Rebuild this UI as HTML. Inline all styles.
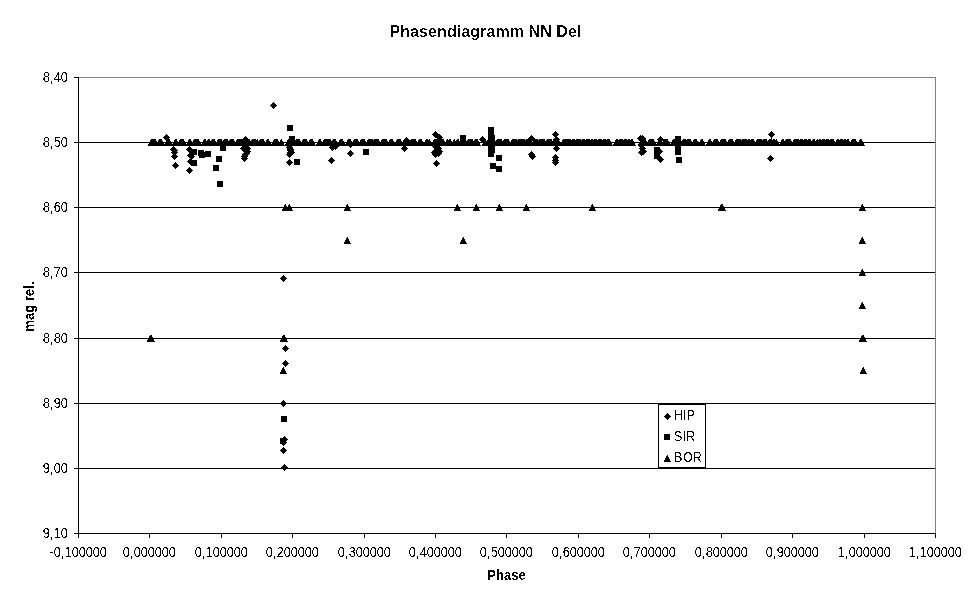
<!DOCTYPE html>
<html lang="de"><head><meta charset="utf-8"><title>Phasendiagramm NN Del</title>
<style>
html,body{margin:0;padding:0;background:#fff;}
body{width:970px;height:604px;overflow:hidden;font-family:"Liberation Sans",sans-serif;}
svg{display:block;}
text{font-family:"Liberation Sans",sans-serif;fill:#000;}
.t{font-size:14px;}
.b{font-weight:bold;}
</style></head><body>
<svg width="970" height="604" viewBox="0 0 970 604">
<rect width="970" height="604" fill="#fff"/>
<defs>
<path id="t" d="M0,-3h1v2h1v2h1v2h1v1h-7v-2h1v-2h1v-2h1z"/>
<path id="d" d="M0,-3h1v1h1v1h1v1h1v1h-1v1h-1v1h-1v1h-1v-1h-1v-1h-1v-1h-1v-1h1v-1h1v-1h1z"/>
<rect id="s" width="6" height="6"/>
<filter id="px" x="0" y="0" width="970" height="604" filterUnits="userSpaceOnUse" color-interpolation-filters="sRGB"><feComponentTransfer><feFuncA type="discrete" tableValues="0 1"/></feComponentTransfer></filter>
<filter id="pc" x="0" y="0" width="970" height="604" filterUnits="userSpaceOnUse" color-interpolation-filters="sRGB"><feComponentTransfer><feFuncA type="discrete" tableValues="0 1"/></feComponentTransfer></filter>
<filter id="pb" x="0" y="0" width="970" height="604" filterUnits="userSpaceOnUse" color-interpolation-filters="sRGB"><feComponentTransfer><feFuncA type="discrete" tableValues="0 0 0 1 1"/></feComponentTransfer></filter>
</defs>
<g shape-rendering="crispEdges">
<rect x="78" y="77" width="858" height="1" fill="#808080"/>
<rect x="935" y="77" width="1" height="457" fill="#808080"/>
<rect x="78" y="142" width="857" height="1"/>
<rect x="78" y="207" width="857" height="1"/>
<rect x="78" y="272" width="857" height="1"/>
<rect x="78" y="338" width="857" height="1"/>
<rect x="78" y="403" width="857" height="1"/>
<rect x="78" y="468" width="857" height="1"/>
<rect x="78" y="77" width="1" height="457"/>
<rect x="78" y="533" width="858" height="1"/>
<rect x="74" y="77" width="4" height="1"/>
<rect x="74" y="142" width="4" height="1"/>
<rect x="74" y="207" width="4" height="1"/>
<rect x="74" y="272" width="4" height="1"/>
<rect x="74" y="338" width="4" height="1"/>
<rect x="74" y="403" width="4" height="1"/>
<rect x="74" y="468" width="4" height="1"/>
<rect x="74" y="533" width="4" height="1"/>
<rect x="78" y="534" width="1" height="4"/>
<rect x="149" y="534" width="1" height="4"/>
<rect x="221" y="534" width="1" height="4"/>
<rect x="292" y="534" width="1" height="4"/>
<rect x="364" y="534" width="1" height="4"/>
<rect x="435" y="534" width="1" height="4"/>
<rect x="506" y="534" width="1" height="4"/>
<rect x="578" y="534" width="1" height="4"/>
<rect x="649" y="534" width="1" height="4"/>
<rect x="721" y="534" width="1" height="4"/>
<rect x="792" y="534" width="1" height="4"/>
<rect x="864" y="534" width="1" height="4"/>
<rect x="935" y="534" width="1" height="4"/>
</g>
<g shape-rendering="crispEdges" fill="#000">
<use href="#t" x="151" y="142"/><use href="#t" x="152" y="142"/><use href="#t" x="153" y="142"/><use href="#t" x="154" y="142"/><use href="#t" x="155" y="142"/><use href="#t" x="159" y="142"/><use href="#t" x="160" y="142"/><use href="#t" x="161" y="142"/><use href="#t" x="167" y="142"/><use href="#t" x="168" y="142"/><use href="#t" x="169" y="142"/><use href="#t" x="175" y="142"/><use href="#t" x="176" y="142"/><use href="#t" x="180" y="142"/><use href="#t" x="181" y="142"/><use href="#t" x="182" y="142"/><use href="#t" x="183" y="142"/><use href="#t" x="189" y="142"/><use href="#t" x="190" y="142"/><use href="#t" x="194" y="142"/><use href="#t" x="195" y="142"/><use href="#t" x="196" y="142"/><use href="#t" x="197" y="142"/><use href="#t" x="198" y="142"/><use href="#t" x="204" y="142"/><use href="#t" x="205" y="142"/><use href="#t" x="208" y="142"/><use href="#t" x="209" y="142"/><use href="#t" x="212" y="142"/><use href="#t" x="213" y="142"/><use href="#t" x="214" y="142"/><use href="#t" x="218" y="142"/><use href="#t" x="219" y="142"/><use href="#t" x="220" y="142"/><use href="#t" x="221" y="142"/><use href="#t" x="224" y="142"/><use href="#t" x="225" y="142"/><use href="#t" x="226" y="142"/><use href="#t" x="227" y="142"/><use href="#t" x="230" y="142"/><use href="#t" x="231" y="142"/><use href="#t" x="232" y="142"/><use href="#t" x="233" y="142"/><use href="#t" x="237" y="142"/><use href="#t" x="238" y="142"/><use href="#t" x="239" y="142"/><use href="#t" x="240" y="142"/><use href="#t" x="241" y="142"/><use href="#t" x="242" y="142"/><use href="#t" x="243" y="142"/><use href="#t" x="244" y="142"/><use href="#t" x="245" y="142"/><use href="#t" x="246" y="142"/><use href="#t" x="247" y="142"/><use href="#t" x="248" y="142"/><use href="#t" x="249" y="142"/><use href="#t" x="252" y="142"/><use href="#t" x="253" y="142"/><use href="#t" x="254" y="142"/><use href="#t" x="255" y="142"/><use href="#t" x="257" y="142"/><use href="#t" x="260" y="142"/><use href="#t" x="261" y="142"/><use href="#t" x="262" y="142"/><use href="#t" x="263" y="142"/><use href="#t" x="267" y="142"/><use href="#t" x="268" y="142"/><use href="#t" x="274" y="142"/><use href="#t" x="275" y="142"/><use href="#t" x="276" y="142"/><use href="#t" x="277" y="142"/><use href="#t" x="281" y="142"/><use href="#t" x="288" y="142"/><use href="#t" x="289" y="142"/><use href="#t" x="290" y="142"/><use href="#t" x="291" y="142"/><use href="#t" x="292" y="142"/><use href="#t" x="293" y="142"/><use href="#t" x="294" y="142"/><use href="#t" x="296" y="142"/><use href="#t" x="297" y="142"/><use href="#t" x="298" y="142"/><use href="#t" x="299" y="142"/><use href="#t" x="303" y="142"/><use href="#t" x="304" y="142"/><use href="#t" x="305" y="142"/><use href="#t" x="306" y="142"/><use href="#t" x="310" y="142"/><use href="#t" x="311" y="142"/><use href="#t" x="312" y="142"/><use href="#t" x="319" y="142"/><use href="#t" x="320" y="142"/><use href="#t" x="324" y="142"/><use href="#t" x="325" y="142"/><use href="#t" x="326" y="142"/><use href="#t" x="327" y="142"/><use href="#t" x="328" y="142"/><use href="#t" x="329" y="142"/><use href="#t" x="330" y="142"/><use href="#t" x="333" y="142"/><use href="#t" x="334" y="142"/><use href="#t" x="335" y="142"/><use href="#t" x="340" y="142"/><use href="#t" x="341" y="142"/><use href="#t" x="342" y="142"/><use href="#t" x="348" y="142"/><use href="#t" x="349" y="142"/><use href="#t" x="350" y="142"/><use href="#t" x="354" y="142"/><use href="#t" x="355" y="142"/><use href="#t" x="356" y="142"/><use href="#t" x="357" y="142"/><use href="#t" x="361" y="142"/><use href="#t" x="362" y="142"/><use href="#t" x="363" y="142"/><use href="#t" x="364" y="142"/><use href="#t" x="368" y="142"/><use href="#t" x="369" y="142"/><use href="#t" x="370" y="142"/><use href="#t" x="371" y="142"/><use href="#t" x="372" y="142"/><use href="#t" x="374" y="142"/><use href="#t" x="375" y="142"/><use href="#t" x="376" y="142"/><use href="#t" x="377" y="142"/><use href="#t" x="378" y="142"/><use href="#t" x="382" y="142"/><use href="#t" x="383" y="142"/><use href="#t" x="384" y="142"/><use href="#t" x="385" y="142"/><use href="#t" x="386" y="142"/><use href="#t" x="390" y="142"/><use href="#t" x="391" y="142"/><use href="#t" x="392" y="142"/><use href="#t" x="397" y="142"/><use href="#t" x="398" y="142"/><use href="#t" x="399" y="142"/><use href="#t" x="400" y="142"/><use href="#t" x="404" y="142"/><use href="#t" x="405" y="142"/><use href="#t" x="406" y="142"/><use href="#t" x="411" y="142"/><use href="#t" x="412" y="142"/><use href="#t" x="413" y="142"/><use href="#t" x="414" y="142"/><use href="#t" x="415" y="142"/><use href="#t" x="419" y="142"/><use href="#t" x="420" y="142"/><use href="#t" x="421" y="142"/><use href="#t" x="426" y="142"/><use href="#t" x="427" y="142"/><use href="#t" x="429" y="142"/><use href="#t" x="434" y="142"/><use href="#t" x="435" y="142"/><use href="#t" x="436" y="142"/><use href="#t" x="437" y="142"/><use href="#t" x="438" y="142"/><use href="#t" x="439" y="142"/><use href="#t" x="440" y="142"/><use href="#t" x="441" y="142"/><use href="#t" x="442" y="142"/><use href="#t" x="443" y="142"/><use href="#t" x="447" y="142"/><use href="#t" x="449" y="142"/><use href="#t" x="450" y="142"/><use href="#t" x="454" y="142"/><use href="#t" x="457" y="142"/><use href="#t" x="458" y="142"/><use href="#t" x="461" y="142"/><use href="#t" x="462" y="142"/><use href="#t" x="463" y="142"/><use href="#t" x="464" y="142"/><use href="#t" x="465" y="142"/><use href="#t" x="468" y="142"/><use href="#t" x="469" y="142"/><use href="#t" x="470" y="142"/><use href="#t" x="471" y="142"/><use href="#t" x="472" y="142"/><use href="#t" x="475" y="142"/><use href="#t" x="476" y="142"/><use href="#t" x="477" y="142"/><use href="#t" x="485" y="142"/><use href="#t" x="488" y="142"/><use href="#t" x="489" y="142"/><use href="#t" x="490" y="142"/><use href="#t" x="491" y="142"/><use href="#t" x="492" y="142"/><use href="#t" x="493" y="142"/><use href="#t" x="494" y="142"/><use href="#t" x="497" y="142"/><use href="#t" x="498" y="142"/><use href="#t" x="499" y="142"/><use href="#t" x="500" y="142"/><use href="#t" x="501" y="142"/><use href="#t" x="504" y="142"/><use href="#t" x="505" y="142"/><use href="#t" x="506" y="142"/><use href="#t" x="507" y="142"/><use href="#t" x="508" y="142"/><use href="#t" x="512" y="142"/><use href="#t" x="513" y="142"/><use href="#t" x="514" y="142"/><use href="#t" x="515" y="142"/><use href="#t" x="516" y="142"/><use href="#t" x="518" y="142"/><use href="#t" x="519" y="142"/><use href="#t" x="520" y="142"/><use href="#t" x="521" y="142"/><use href="#t" x="522" y="142"/><use href="#t" x="523" y="142"/><use href="#t" x="524" y="142"/><use href="#t" x="526" y="142"/><use href="#t" x="527" y="142"/><use href="#t" x="528" y="142"/><use href="#t" x="529" y="142"/><use href="#t" x="530" y="142"/><use href="#t" x="534" y="142"/><use href="#t" x="535" y="142"/><use href="#t" x="536" y="142"/><use href="#t" x="537" y="142"/><use href="#t" x="539" y="142"/><use href="#t" x="540" y="142"/><use href="#t" x="541" y="142"/><use href="#t" x="542" y="142"/><use href="#t" x="543" y="142"/><use href="#t" x="544" y="142"/><use href="#t" x="547" y="142"/><use href="#t" x="548" y="142"/><use href="#t" x="549" y="142"/><use href="#t" x="550" y="142"/><use href="#t" x="551" y="142"/><use href="#t" x="554" y="142"/><use href="#t" x="555" y="142"/><use href="#t" x="556" y="142"/><use href="#t" x="557" y="142"/><use href="#t" x="558" y="142"/><use href="#t" x="563" y="142"/><use href="#t" x="564" y="142"/><use href="#t" x="565" y="142"/><use href="#t" x="566" y="142"/><use href="#t" x="567" y="142"/><use href="#t" x="568" y="142"/><use href="#t" x="569" y="142"/><use href="#t" x="570" y="142"/><use href="#t" x="572" y="142"/><use href="#t" x="573" y="142"/><use href="#t" x="574" y="142"/><use href="#t" x="576" y="142"/><use href="#t" x="577" y="142"/><use href="#t" x="578" y="142"/><use href="#t" x="579" y="142"/><use href="#t" x="580" y="142"/><use href="#t" x="582" y="142"/><use href="#t" x="583" y="142"/><use href="#t" x="584" y="142"/><use href="#t" x="586" y="142"/><use href="#t" x="587" y="142"/><use href="#t" x="588" y="142"/><use href="#t" x="589" y="142"/><use href="#t" x="591" y="142"/><use href="#t" x="592" y="142"/><use href="#t" x="594" y="142"/><use href="#t" x="595" y="142"/><use href="#t" x="596" y="142"/><use href="#t" x="598" y="142"/><use href="#t" x="599" y="142"/><use href="#t" x="600" y="142"/><use href="#t" x="601" y="142"/><use href="#t" x="603" y="142"/><use href="#t" x="604" y="142"/><use href="#t" x="605" y="142"/><use href="#t" x="607" y="142"/><use href="#t" x="608" y="142"/><use href="#t" x="609" y="142"/><use href="#t" x="616" y="142"/><use href="#t" x="617" y="142"/><use href="#t" x="619" y="142"/><use href="#t" x="620" y="142"/><use href="#t" x="621" y="142"/><use href="#t" x="622" y="142"/><use href="#t" x="624" y="142"/><use href="#t" x="625" y="142"/><use href="#t" x="626" y="142"/><use href="#t" x="628" y="142"/><use href="#t" x="629" y="142"/><use href="#t" x="631" y="142"/><use href="#t" x="632" y="142"/><use href="#t" x="641" y="142"/><use href="#t" x="642" y="142"/><use href="#t" x="643" y="142"/><use href="#t" x="644" y="142"/><use href="#t" x="645" y="142"/><use href="#t" x="649" y="142"/><use href="#t" x="650" y="142"/><use href="#t" x="651" y="142"/><use href="#t" x="652" y="142"/><use href="#t" x="653" y="142"/><use href="#t" x="659" y="142"/><use href="#t" x="660" y="142"/><use href="#t" x="664" y="142"/><use href="#t" x="665" y="142"/><use href="#t" x="666" y="142"/><use href="#t" x="667" y="142"/><use href="#t" x="673" y="142"/><use href="#t" x="674" y="142"/><use href="#t" x="675" y="142"/><use href="#t" x="676" y="142"/><use href="#t" x="677" y="142"/><use href="#t" x="678" y="142"/><use href="#t" x="679" y="142"/><use href="#t" x="680" y="142"/><use href="#t" x="683" y="142"/><use href="#t" x="684" y="142"/><use href="#t" x="685" y="142"/><use href="#t" x="687" y="142"/><use href="#t" x="688" y="142"/><use href="#t" x="689" y="142"/><use href="#t" x="690" y="142"/><use href="#t" x="694" y="142"/><use href="#t" x="695" y="142"/><use href="#t" x="696" y="142"/><use href="#t" x="701" y="142"/><use href="#t" x="702" y="142"/><use href="#t" x="709" y="142"/><use href="#t" x="710" y="142"/><use href="#t" x="714" y="142"/><use href="#t" x="715" y="142"/><use href="#t" x="716" y="142"/><use href="#t" x="717" y="142"/><use href="#t" x="721" y="142"/><use href="#t" x="722" y="142"/><use href="#t" x="723" y="142"/><use href="#t" x="724" y="142"/><use href="#t" x="725" y="142"/><use href="#t" x="729" y="142"/><use href="#t" x="730" y="142"/><use href="#t" x="731" y="142"/><use href="#t" x="732" y="142"/><use href="#t" x="736" y="142"/><use href="#t" x="737" y="142"/><use href="#t" x="738" y="142"/><use href="#t" x="739" y="142"/><use href="#t" x="740" y="142"/><use href="#t" x="742" y="142"/><use href="#t" x="743" y="142"/><use href="#t" x="744" y="142"/><use href="#t" x="745" y="142"/><use href="#t" x="746" y="142"/><use href="#t" x="748" y="142"/><use href="#t" x="749" y="142"/><use href="#t" x="751" y="142"/><use href="#t" x="752" y="142"/><use href="#t" x="753" y="142"/><use href="#t" x="757" y="142"/><use href="#t" x="758" y="142"/><use href="#t" x="759" y="142"/><use href="#t" x="760" y="142"/><use href="#t" x="761" y="142"/><use href="#t" x="763" y="142"/><use href="#t" x="764" y="142"/><use href="#t" x="765" y="142"/><use href="#t" x="766" y="142"/><use href="#t" x="769" y="142"/><use href="#t" x="770" y="142"/><use href="#t" x="773" y="142"/><use href="#t" x="774" y="142"/><use href="#t" x="776" y="142"/><use href="#t" x="782" y="142"/><use href="#t" x="783" y="142"/><use href="#t" x="786" y="142"/><use href="#t" x="787" y="142"/><use href="#t" x="788" y="142"/><use href="#t" x="789" y="142"/><use href="#t" x="790" y="142"/><use href="#t" x="794" y="142"/><use href="#t" x="795" y="142"/><use href="#t" x="796" y="142"/><use href="#t" x="797" y="142"/><use href="#t" x="798" y="142"/><use href="#t" x="800" y="142"/><use href="#t" x="801" y="142"/><use href="#t" x="802" y="142"/><use href="#t" x="804" y="142"/><use href="#t" x="805" y="142"/><use href="#t" x="806" y="142"/><use href="#t" x="808" y="142"/><use href="#t" x="809" y="142"/><use href="#t" x="810" y="142"/><use href="#t" x="813" y="142"/><use href="#t" x="814" y="142"/><use href="#t" x="817" y="142"/><use href="#t" x="819" y="142"/><use href="#t" x="820" y="142"/><use href="#t" x="822" y="142"/><use href="#t" x="823" y="142"/><use href="#t" x="824" y="142"/><use href="#t" x="826" y="142"/><use href="#t" x="827" y="142"/><use href="#t" x="828" y="142"/><use href="#t" x="830" y="142"/><use href="#t" x="831" y="142"/><use href="#t" x="832" y="142"/><use href="#t" x="833" y="142"/><use href="#t" x="837" y="142"/><use href="#t" x="838" y="142"/><use href="#t" x="840" y="142"/><use href="#t" x="841" y="142"/><use href="#t" x="842" y="142"/><use href="#t" x="844" y="142"/><use href="#t" x="845" y="142"/><use href="#t" x="847" y="142"/><use href="#t" x="848" y="142"/><use href="#t" x="852" y="142"/><use href="#t" x="853" y="142"/><use href="#t" x="854" y="142"/><use href="#t" x="855" y="142"/><use href="#t" x="860" y="142"/><use href="#t" x="861" y="142"/>
<use href="#t" x="150" y="338"/><use href="#t" x="151" y="338"/><use href="#t" x="285" y="207"/><use href="#t" x="289" y="207"/><use href="#t" x="347" y="207"/><use href="#t" x="457" y="207"/><use href="#t" x="476" y="207"/><use href="#t" x="499" y="207"/><use href="#t" x="526" y="207"/><use href="#t" x="592" y="207"/><use href="#t" x="721" y="207"/><use href="#t" x="722" y="207"/><use href="#t" x="862" y="207"/><use href="#t" x="347" y="240"/><use href="#t" x="463" y="240"/><use href="#t" x="862" y="240"/><use href="#t" x="862" y="272"/><use href="#t" x="862" y="305"/><use href="#t" x="862" y="338"/><use href="#t" x="863" y="338"/><use href="#t" x="863" y="370"/><use href="#t" x="284" y="338"/><use href="#t" x="283" y="338"/><use href="#t" x="283" y="370"/><use href="#t" x="771" y="141"/>
<use href="#d" x="273" y="105"/><use href="#d" x="166" y="137"/><use href="#d" x="173" y="149"/><use href="#d" x="174" y="150"/><use href="#d" x="174" y="152"/><use href="#d" x="174" y="156"/><use href="#d" x="175" y="165"/><use href="#d" x="189" y="149"/><use href="#d" x="190" y="155"/><use href="#d" x="191" y="156"/><use href="#d" x="190" y="161"/><use href="#d" x="189" y="170"/><use href="#d" x="245" y="139"/><use href="#d" x="245" y="146"/><use href="#d" x="246" y="147"/><use href="#d" x="243" y="148"/><use href="#d" x="247" y="148"/><use href="#d" x="246" y="150"/><use href="#d" x="247" y="151"/><use href="#d" x="246" y="153"/><use href="#d" x="245" y="154"/><use href="#d" x="244" y="156"/><use href="#d" x="244" y="158"/><use href="#d" x="289" y="147"/><use href="#d" x="290" y="149"/><use href="#d" x="290" y="150"/><use href="#d" x="290" y="152"/><use href="#d" x="291" y="152"/><use href="#d" x="289" y="154"/><use href="#d" x="289" y="162"/><use href="#d" x="332" y="147"/><use href="#d" x="335" y="146"/><use href="#d" x="331" y="160"/><use href="#d" x="350" y="144"/><use href="#d" x="350" y="153"/><use href="#d" x="404" y="148"/><use href="#d" x="406" y="140"/><use href="#d" x="407" y="142"/><use href="#d" x="435" y="134"/><use href="#d" x="439" y="137"/><use href="#d" x="435" y="146"/><use href="#d" x="438" y="148"/><use href="#d" x="436" y="150"/><use href="#d" x="434" y="152"/><use href="#d" x="439" y="151"/><use href="#d" x="435" y="154"/><use href="#d" x="438" y="153"/><use href="#d" x="436" y="163"/><use href="#d" x="482" y="139"/><use href="#d" x="531" y="138"/><use href="#d" x="531" y="154"/><use href="#d" x="532" y="156"/><use href="#d" x="555" y="134"/><use href="#d" x="556" y="139"/><use href="#d" x="556" y="148"/><use href="#d" x="555" y="157"/><use href="#d" x="555" y="160"/><use href="#d" x="555" y="162"/><use href="#d" x="640" y="138"/><use href="#d" x="642" y="138"/><use href="#d" x="641" y="145"/><use href="#d" x="642" y="148"/><use href="#d" x="641" y="152"/><use href="#d" x="643" y="151"/><use href="#d" x="660" y="139"/><use href="#d" x="659" y="151"/><use href="#d" x="660" y="159"/><use href="#d" x="771" y="134"/><use href="#d" x="770" y="158"/><use href="#d" x="283" y="278"/><use href="#d" x="285" y="348"/><use href="#d" x="285" y="363"/><use href="#d" x="283" y="403"/><use href="#d" x="284" y="439"/><use href="#d" x="283" y="442"/><use href="#d" x="283" y="450"/><use href="#d" x="284" y="467"/>
<use href="#s" x="287" y="125"/><use href="#s" x="289" y="136"/><use href="#s" x="191" y="149"/><use href="#s" x="191" y="160"/><use href="#s" x="198" y="150"/><use href="#s" x="199" y="152"/><use href="#s" x="205" y="151"/><use href="#s" x="216" y="156"/><use href="#s" x="213" y="165"/><use href="#s" x="220" y="145"/><use href="#s" x="217" y="181"/><use href="#s" x="294" y="159"/><use href="#s" x="363" y="149"/><use href="#s" x="460" y="135"/><use href="#s" x="488" y="127"/><use href="#s" x="488" y="131"/><use href="#s" x="488" y="135"/><use href="#s" x="488" y="139"/><use href="#s" x="488" y="143"/><use href="#s" x="488" y="147"/><use href="#s" x="489" y="135"/><use href="#s" x="489" y="139"/><use href="#s" x="489" y="143"/><use href="#s" x="489" y="147"/><use href="#s" x="488" y="151"/><use href="#s" x="496" y="155"/><use href="#s" x="490" y="163"/><use href="#s" x="496" y="166"/><use href="#s" x="654" y="147"/><use href="#s" x="654" y="153"/><use href="#s" x="675" y="136"/><use href="#s" x="675" y="140"/><use href="#s" x="675" y="144"/><use href="#s" x="675" y="149"/><use href="#s" x="676" y="157"/><use href="#s" x="281" y="416"/><use href="#s" x="280" y="438"/>
</g>
<g shape-rendering="crispEdges">
<rect x="658.5" y="403.5" width="47" height="64" fill="#fff" stroke="#000" stroke-width="1"/>
<rect x="658" y="404" width="48" height="1"/>
<rect x="658" y="467" width="48" height="1"/>
<use href="#d" x="667" y="416"/><use href="#s" x="664" y="434"/><use href="#t" x="667" y="458"/>
</g>
<g filter="url(#px)">
<text transform="translate(673.75,420) scale(0.92,1)" font-size="14">HIP</text>
<text transform="translate(673.75,441) scale(0.92,1)" font-size="14" x="0 9.95 13.25">SIR</text>
<text transform="translate(673.75,462) scale(0.92,1)" font-size="14" x="0 10 20.3">BOR</text>
</g><g filter="url(#pb)">
<text class="b" x="485.5" y="37" font-size="16" text-anchor="middle" letter-spacing="0.08">Phasendiagramm NN Del</text>
</g><g filter="url(#pc)">
<text class="b" font-size="14" text-anchor="middle" transform="translate(506.5,580) scale(0.93,1)">Phase</text>
<text class="b" font-size="14" text-anchor="middle" transform="translate(34,306.5) rotate(-90) scale(0.93,1)">mag rel.</text>
</g><g filter="url(#px)">
<text class="t" transform="translate(42.75,82) scale(0.92,1)" x="0 7.61 11.96 19.57" y="0">8,40</text>
<text class="t" transform="translate(42.75,147) scale(0.92,1)" x="0 7.61 11.96 19.57" y="0">8,50</text>
<text class="t" transform="translate(42.75,212) scale(0.92,1)" x="0 7.61 11.96 19.57" y="0">8,60</text>
<text class="t" transform="translate(42.75,277) scale(0.92,1)" x="0 7.61 11.96 19.57" y="0">8,70</text>
<text class="t" transform="translate(42.75,343) scale(0.92,1)" x="0 7.61 11.96 19.57" y="0">8,80</text>
<text class="t" transform="translate(42.75,408) scale(0.92,1)" x="0 7.61 11.96 19.57" y="0">8,90</text>
<text class="t" transform="translate(42.75,473) scale(0.92,1)" x="0 7.61 11.96 19.57" y="0">9,00</text>
<text class="t" transform="translate(42.75,538) scale(0.92,1)" x="0 7.61 11.96 19.57" y="0">9,10</text>
<text class="t" transform="translate(49.75,557) scale(0.92,1)" x="0 4.35 11.96 16.3 23.91 31.52 39.13 46.74 54.35" y="0">-0,100000</text>
<text class="t" transform="translate(122.75,557) scale(0.92,1)" x="0 7.61 11.96 19.57 27.17 34.78 42.39 50" y="0">0,000000</text>
<text class="t" transform="translate(194.75,557) scale(0.92,1)" x="0 7.61 11.96 19.57 27.17 34.78 42.39 50" y="0">0,100000</text>
<text class="t" transform="translate(265.75,557) scale(0.92,1)" x="0 7.61 11.96 19.57 27.17 34.78 42.39 50" y="0">0,200000</text>
<text class="t" transform="translate(337.75,557) scale(0.92,1)" x="0 7.61 11.96 19.57 27.17 34.78 42.39 50" y="0">0,300000</text>
<text class="t" transform="translate(408.75,557) scale(0.92,1)" x="0 7.61 11.96 19.57 27.17 34.78 42.39 50" y="0">0,400000</text>
<text class="t" transform="translate(479.75,557) scale(0.92,1)" x="0 7.61 11.96 19.57 27.17 34.78 42.39 50" y="0">0,500000</text>
<text class="t" transform="translate(551.75,557) scale(0.92,1)" x="0 7.61 11.96 19.57 27.17 34.78 42.39 50" y="0">0,600000</text>
<text class="t" transform="translate(622.75,557) scale(0.92,1)" x="0 7.61 11.96 19.57 27.17 34.78 42.39 50" y="0">0,700000</text>
<text class="t" transform="translate(694.75,557) scale(0.92,1)" x="0 7.61 11.96 19.57 27.17 34.78 42.39 50" y="0">0,800000</text>
<text class="t" transform="translate(765.75,557) scale(0.92,1)" x="0 7.61 11.96 19.57 27.17 34.78 42.39 50" y="0">0,900000</text>
<text class="t" transform="translate(837.75,557) scale(0.92,1)" x="0 7.61 11.96 19.57 27.17 34.78 42.39 50" y="0">1,000000</text>
<text class="t" transform="translate(908.75,557) scale(0.92,1)" x="0 7.61 11.96 19.57 27.17 34.78 42.39 50" y="0">1,100000</text>
</g>
</svg>
</body></html>
